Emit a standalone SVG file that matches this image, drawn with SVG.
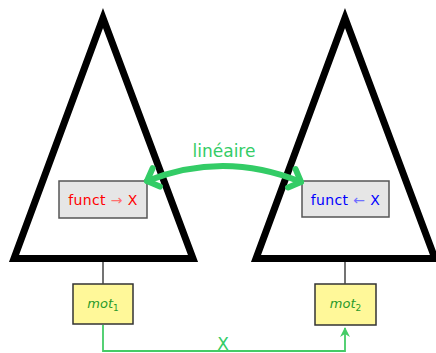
<svg xmlns="http://www.w3.org/2000/svg" width="436" height="353" viewBox="0 0 436 353">
<style>
.tri{fill:none;stroke:#000;stroke-width:7;stroke-linejoin:miter;stroke-miterlimit:10}
.fbox{fill:#e6e6e6;stroke:#555;stroke-width:1.5}
.mbox{fill:#fff899;stroke:#333;stroke-width:1.5}
.stem{stroke:#444;stroke-width:1.5;fill:none}
.t{font-family:"DejaVu Sans",sans-serif}
.mot{font-family:"DejaVu Sans",sans-serif;font-style:italic;font-size:13px;fill:#2a9a2a}
.arc{fill:none;stroke:#33cc66;stroke-width:6;stroke-linecap:round;stroke-linejoin:round}
.flow{fill:none;stroke:#44cc66;stroke-width:1.8}
</style>
<defs>
<marker id="ah" markerWidth="10" markerHeight="12" refX="9" refY="6" orient="auto" markerUnits="userSpaceOnUse">
<path d="M0,1 L10,6 L0,11 L3,6 Z" fill="#44cc66"/>
</marker>
</defs>
<g id="tree1">
<polygon class="tri" points="103,18 14,258.5 193,258.5"/>
</g>
<g id="tree2">
<polygon class="tri" points="345,18 256,258.5 435,258.5"/>
</g>
<g id="funct1">
<rect class="fbox" x="59" y="181" width="88" height="37"/>
<text class="t" x="103" y="205" font-size="14" text-anchor="middle" letter-spacing="0.4" fill="#ff0000">funct <tspan fill="#ff7070">→</tspan> X</text>
</g>
<g id="funct2">
<rect class="fbox" x="302" y="181" width="87" height="36"/>
<text class="t" x="345.5" y="205" font-size="14" text-anchor="middle" letter-spacing="0.4" fill="#0000ff">funct <tspan fill="#7070ff">←</tspan> X</text>
</g>
<g id="mot1">
<rect class="mbox" x="73" y="284" width="60" height="40"/>
<text class="mot" x="103" y="308" text-anchor="middle">mot<tspan font-size="9" font-style="normal" dy="3">1</tspan></text>
</g>
<g id="mot2">
<rect class="mbox" x="315" y="284" width="61" height="41"/>
<text class="mot" x="345.5" y="308" text-anchor="middle">mot<tspan font-size="9" font-style="normal" dy="3">2</tspan></text>
</g>
<g id="connectors">
<line class="stem" x1="103" y1="262" x2="103" y2="284"/>
<line class="stem" x1="345" y1="262" x2="345" y2="284"/>
<path class="arc" d="M147,181 Q224,150.5 301,182"/>
<path class="arc" d="M152.6,168.2 L147,181 L159.9,186.6"/>
<path class="arc" d="M295.6,169.1 L301,182 L288.1,187.4"/>
<text class="t" x="224" y="157" font-size="17" text-anchor="middle" fill="#33cc66">linéaire</text>
<path class="flow" d="M103,325 L103,351 L345,351 L345,328" marker-end="url(#ah)"/>
<text class="t" x="223" y="350" font-size="17" text-anchor="middle" fill="#33cc66">X</text>
</g>
</svg>
